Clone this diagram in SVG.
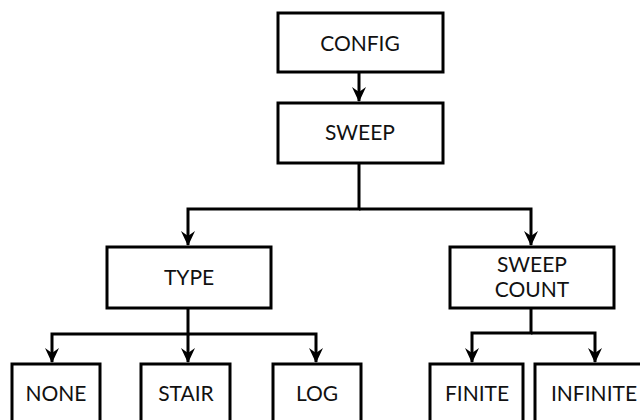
<svg xmlns="http://www.w3.org/2000/svg" width="640" height="420" viewBox="0 0 640 420">
<style>
.box{fill:#fff;stroke:#000;stroke-width:3}
.t{font-family:Lato,"Open Sans","Liberation Sans",sans-serif;font-size:21px;fill:#111;text-anchor:middle;dominant-baseline:central}
.c{fill:none;stroke:#000;stroke-width:3}
</style>
<defs>
<marker id="ah" viewBox="0 0 16 14" refX="15" refY="7" markerWidth="16" markerHeight="14" markerUnits="userSpaceOnUse" orient="auto">
<path d="M16,7 L1,0 L6,7 L1,14 Z" fill="#000"/>
</marker>
</defs>
<rect width="640" height="420" fill="#fff"/>
<g id="connectors">
<path class="c" d="M359,72 V101" marker-end="url(#ah)"/>
<path class="c" d="M359,163 V209 H188 V245" marker-end="url(#ah)"/>
<path class="c" d="M359,209 H531 V245" marker-end="url(#ah)"/>
<path class="c" d="M188,308 V334 H52 V362" marker-end="url(#ah)"/>
<path class="c" d="M188,334 V362" marker-end="url(#ah)"/>
<path class="c" d="M188,334 H316 V362" marker-end="url(#ah)"/>
<path class="c" d="M531,308 V333 H472 V362" marker-end="url(#ah)"/>
<path class="c" d="M531,333 H595 V362" marker-end="url(#ah)"/>
</g>
<g id="config"><rect class="box" x="278" y="13" width="165" height="59"/><text class="t" x="360" y="42">CONFIG</text></g>
<g id="sweep"><rect class="box" x="278" y="103" width="165" height="60"/><text class="t" x="360" y="131">SWEEP</text></g>
<g id="type"><rect class="box" x="107" y="247" width="164" height="61"/><text class="t" x="189" y="276">TYPE</text></g>
<g id="sweepcount"><rect class="box" x="450" y="247" width="164" height="61"/><text class="t" x="532"><tspan x="532" y="263">SWEEP</tspan><tspan x="532" y="288">COUNT</tspan></text></g>
<g id="none"><rect class="box" x="12" y="364" width="88" height="70"/><text class="t" x="56" y="392">NONE</text></g>
<g id="stair"><rect class="box" x="141" y="364" width="89" height="70"/><text class="t" x="186" y="392">STAIR</text></g>
<g id="log"><rect class="box" x="273" y="364" width="88" height="70"/><text class="t" x="317" y="392">LOG</text></g>
<g id="finite"><rect class="box" x="430" y="364" width="93" height="70"/><text class="t" x="477" y="392">FINITE</text></g>
<g id="infinite"><rect class="box" x="535" y="364" width="120" height="70"/><text class="t" x="594" y="392">INFINITE</text></g>
</svg>
